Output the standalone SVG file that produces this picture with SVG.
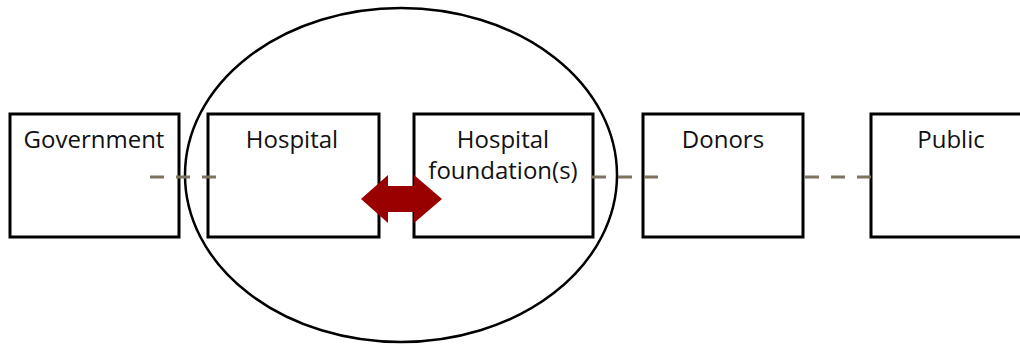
<svg xmlns="http://www.w3.org/2000/svg" width="1020" height="345" viewBox="0 0 1020 345">
<style>
.box{fill:#fff;stroke:#000;stroke-width:3}
.lbl{font-family:"Open Sans","Noto Sans",sans-serif;font-size:24px;fill:#111;text-anchor:middle}
.dash{stroke:#7d735e;stroke-width:3;stroke-dasharray:14 12;fill:none}
</style>
<rect width="1020" height="345" fill="#fff"/>
<g id="government"><rect class="box" x="10" y="114" width="169" height="123"/><text class="lbl" x="94" y="148">Government</text></g>
<g id="hospital"><rect class="box" x="208" y="114" width="171" height="123"/><text class="lbl" x="292" y="148">Hospital</text></g>
<g id="foundation"><rect class="box" x="414" y="114" width="179" height="123"/><text class="lbl" x="503" y="148">Hospital</text><text class="lbl" x="503" y="179">foundation(s)</text></g>
<g id="donors"><rect class="box" x="643" y="114" width="160" height="123"/><text class="lbl" x="723" y="148">Donors</text></g>
<g id="public"><rect class="box" x="871" y="114" width="162" height="123"/><text class="lbl" x="951" y="148">Public</text></g>
<g id="boundary"><ellipse cx="401" cy="175" rx="216" ry="167" fill="none" stroke="#000" stroke-width="2.5"/></g>
<g id="connectors">
<line class="dash" x1="150" y1="177" x2="219" y2="177"/>
<line class="dash" x1="592" y1="177" x2="660" y2="177"/>
<line class="dash" x1="805" y1="177" x2="872" y2="177"/>
<polygon fill="#990000" points="361,199 388,175 388,186 414,186 414,175 442,199 414,223 414,212 388,212 388,223"/>
</g>
</svg>
